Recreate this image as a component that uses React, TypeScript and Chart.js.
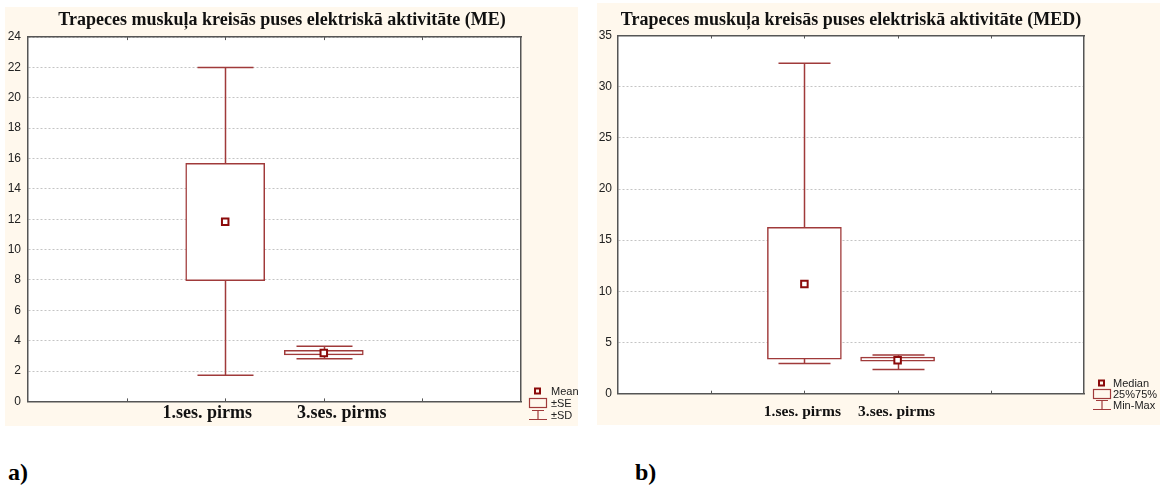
import React, { useEffect, useRef } from "react";
import { Chart, registerables } from "chart.js";

Chart.register(...registerables);

// ---------- data ----------
const categories = ["1.ses. pirms", "3.ses. pirms"];
const categoryPositions = [2, 3];

// a) mean, ±SE, ±SD
const meTitle = "Trapeces muskuļa kreisās puses elektriskā aktivitāte (ME)";
const meMean = [11.84, 3.19];
const meSeLow = [7.95, 3.06];
const meSeHigh = [15.68, 3.37];
const meSdLow = [1.72, 2.81];
const meSdHigh = [22.0, 3.63];
const meYMax = 24;
const meYStep = 2;
const meLegend = ["Mean", "±SE", "±SD"];

// b) median, 25%-75%, min-max
const medTitle = "Trapeces muskuļa kreisās puses elektriskā aktivitāte (MED)";
const medMedian = [10.73, 3.28];
const medQ1 = [3.38, 3.18];
const medQ3 = [16.25, 3.57];
const medMin = [2.96, 2.37];
const medMax = [32.3, 3.77];
const medYMax = 35;
const medYStep = 5;
const medLegend = ["Median", "25%75%", "Min-Max"];

// ---------- styles ----------
const CREAM = "#fff8ed";
const LINE = "#a03a3a";
const MARK = "#8b0a0a";
const FRAME = "#555555";
const SERIF = '"Liberation Serif", "Times New Roman", serif';
const NARROW = '"Liberation Sans Narrow", "Arial Narrow", "Liberation Sans", Arial, sans-serif';

type Spec = {
  left: number; top: number; width: number; height: number;
  areaLeft: number; areaTop: number; areaBottom: number; padRight: number;
  title: string; titleX: number; titleY: number; titleSize: number;
  labelSize: number; labelY: number; labelOffsets: number[];
  center: number[]; boxLow: number[]; boxHigh: number[]; whiskLow: number[]; whiskHigh: number[];
  yMax: number; yStep: number; tickPad: number;
  boxWidth: number; capWidth: number;
  legend: string[]; legendIconX: number; legendTextX: number; legendRows: number[]; legendBoxW: number;
};

function makePlugin(s: Spec) {
  return {
    id: "boxDecor",
    beforeDraw(chart: any) {
      const { ctx, chartArea: a } = chart;
      ctx.save();
      ctx.fillStyle = "#ffffff";
      ctx.fillRect(a.left, a.top, a.right - a.left, a.bottom - a.top);
      ctx.restore();
    },
    beforeDatasetsDraw(chart: any) {
      const { ctx } = chart;
      const xs = chart.scales.x;
      const ys = chart.scales.y;
      ctx.save();
      ctx.strokeStyle = LINE;
      ctx.lineWidth = 1.5;
      categoryPositions.forEach((p, i) => {
        const x = Math.round(xs.getPixelForValue(p)) + 0.5;
        const y1 = ys.getPixelForValue(s.whiskLow[i]);
        const y2 = ys.getPixelForValue(s.whiskHigh[i]);
        ctx.beginPath();
        ctx.moveTo(x, y1);
        ctx.lineTo(x, y2);
        ctx.moveTo(x - s.capWidth / 2, y1);
        ctx.lineTo(x + s.capWidth / 2, y1);
        ctx.moveTo(x - s.capWidth / 2, y2);
        ctx.lineTo(x + s.capWidth / 2, y2);
        ctx.stroke();
      });
      ctx.restore();
    },
    afterDraw(chart: any) {
      const { ctx, chartArea: a } = chart;
      const xs = chart.scales.x;
      ctx.save();
      // inner tick marks on top and bottom frame
      ctx.strokeStyle = FRAME;
      ctx.lineWidth = 1;
      xs.ticks.forEach((t: any) => {
        if (t.value <= 0 || t.value >= 5) return;
        const x = Math.round(xs.getPixelForValue(t.value)) + 0.5;
        ctx.beginPath();
        ctx.moveTo(x, a.bottom);
        ctx.lineTo(x, a.bottom - 3);
        ctx.moveTo(x, a.top);
        ctx.lineTo(x, a.top + 3);
        ctx.stroke();
      });
      // title
      ctx.fillStyle = "#111";
      ctx.font = `bold ${s.titleSize}px ${SERIF}`;
      ctx.textAlign = "center";
      ctx.textBaseline = "alphabetic";
      ctx.fillText(s.title, s.titleX, s.titleY);
      // category labels
      ctx.font = `bold ${s.labelSize}px ${SERIF}`;
      categories.forEach((c, i) => {
        const x = xs.getPixelForValue(categoryPositions[i]) + s.labelOffsets[i];
        ctx.fillText(c, x, s.labelY);
      });
      // legend
      const [r0, r1, r2] = s.legendRows;
      const ix = s.legendIconX;
      const bw = s.legendBoxW;
      ctx.fillStyle = "#fff";
      ctx.strokeStyle = MARK;
      ctx.lineWidth = 2;
      ctx.strokeRect(ix + bw / 2 - 2.5, r0 - 2.5, 5, 5);
      ctx.strokeStyle = LINE;
      ctx.lineWidth = 1.2;
      ctx.strokeRect(ix + 0.5, r1 - 4.5, bw, 9);
      ctx.beginPath();
      ctx.moveTo(ix + 3, r2 - 4.5);
      ctx.lineTo(ix + bw - 2, r2 - 4.5);
      ctx.moveTo(ix + bw / 2 + 0.5, r2 - 4.5);
      ctx.lineTo(ix + bw / 2 + 0.5, r2 + 4.5);
      ctx.moveTo(ix, r2 + 4.5);
      ctx.lineTo(ix + bw + 1, r2 + 4.5);
      ctx.stroke();
      ctx.fillStyle = "#222";
      ctx.font = `11px ${NARROW}`;
      ctx.textAlign = "left";
      ctx.textBaseline = "middle";
      s.legend.forEach((l, i) => ctx.fillText(l, s.legendTextX, s.legendRows[i] + 0.5));
      ctx.restore();
    },
  };
}

function buildConfig(s: Spec): any {
  const hiddenX = (pos: string, h: number) => ({
    type: "linear",
    position: pos,
    min: 0,
    max: 5,
    offset: false,
    ticks: { display: false, stepSize: 1 },
    grid: { display: false, drawTicks: false },
    border: { display: true, color: FRAME, width: 1.5 },
    afterFit: (sc: any) => { sc.height = h; },
  });
  return {
    type: "bar",
    data: {
      datasets: [
        {
          type: "scatter",
          label: s.legend[0],
          data: categoryPositions.map((x, i) => ({ x, y: s.center[i] })),
          pointStyle: "rect",
          pointRadius: 4.6,
          pointBorderWidth: 2,
          pointBorderColor: MARK,
          pointBackgroundColor: "#ffffff",
          xAxisID: "x",
          yAxisID: "y",
          order: 1,
        },
        {
          type: "bar",
          label: s.legend[1],
          data: categoryPositions.map((x, i) => ({ x, y: [s.boxLow[i], s.boxHigh[i]] })),
          backgroundColor: "#ffffff",
          borderColor: LINE,
          borderWidth: 1.5,
          borderSkipped: false,
          barThickness: s.boxWidth,
          xAxisID: "x",
          yAxisID: "y",
          order: 2,
        },
      ],
    },
    options: {
      animation: false,
      responsive: false,
      maintainAspectRatio: false,
      events: [],
      layout: { padding: { left: 0, right: s.padRight, top: 0, bottom: 0 } },
      plugins: {
        legend: { display: false },
        title: { display: false },
        tooltip: { enabled: false },
      },
      scales: {
        x: hiddenX("bottom", s.height - s.areaBottom),
        x2: hiddenX("top", s.areaTop),
        y: {
          type: "linear",
          position: "left",
          min: 0,
          max: s.yMax,
          ticks: {
            stepSize: s.yStep,
            color: "#222",
            padding: s.tickPad,
            font: { family: NARROW, size: 12 },
          },
          grid: { color: "#c4c4c4", lineWidth: 1, drawTicks: false },
          border: { display: true, color: FRAME, width: 1.5, dash: [2, 2] },
          afterFit: (sc: any) => { sc.width = s.areaLeft; },
        },
        y2: {
          type: "linear",
          position: "right",
          min: 0,
          max: 1,
          ticks: { display: false },
          grid: { display: false, drawTicks: false },
          border: { display: true, color: FRAME, width: 1.5 },
          afterFit: (sc: any) => { sc.width = 0; },
        },
      },
    },
    plugins: [makePlugin(s)],
  };
}

const specA: Spec = {
  left: 5, top: 7, width: 573, height: 419,
  areaLeft: 23, areaTop: 30.1, areaBottom: 394.4, padRight: 57,
  title: meTitle, titleX: 277, titleY: 18, titleSize: 18,
  labelSize: 18, labelY: 411, labelOffsets: [-18, 18],
  center: meMean, boxLow: meSeLow, boxHigh: meSeHigh, whiskLow: meSdLow, whiskHigh: meSdHigh,
  yMax: meYMax, yStep: meYStep, tickPad: 7,
  boxWidth: 79, capWidth: 56,
  legend: meLegend, legendIconX: 524, legendTextX: 546, legendRows: [384, 396, 408], legendBoxW: 17,
};

const specB: Spec = {
  left: 597, top: 3, width: 563, height: 422,
  areaLeft: 21, areaTop: 32.5, areaBottom: 390.7, padRight: 76,
  title: medTitle, titleX: 254, titleY: 22, titleSize: 18,
  labelSize: 15.5, labelY: 413, labelOffsets: [-2, -1],
  center: medMedian, boxLow: medQ1, boxHigh: medQ3, whiskLow: medMin, whiskHigh: medMax,
  yMax: medYMax, yStep: medYStep, tickPad: 6,
  boxWidth: 74, capWidth: 52,
  legend: medLegend, legendIconX: 496, legendTextX: 516, legendRows: [380, 391, 402], legendBoxW: 17,
};

function Panel({ spec }: { spec: Spec }) {
  const ref = useRef<HTMLCanvasElement>(null);
  useEffect(() => {
    const chart = new Chart(ref.current as HTMLCanvasElement, buildConfig(spec));
    return () => chart.destroy();
  }, [spec]);
  return (
    <canvas
      ref={ref}
      width={spec.width}
      height={spec.height}
      style={{
        position: "absolute",
        left: spec.left,
        top: spec.top,
        width: spec.width,
        height: spec.height,
        background: CREAM,
      }}
    />
  );
}

const tag = (left: number): React.CSSProperties => ({
  position: "absolute",
  left,
  top: 460,
  fontFamily: SERIF,
  fontWeight: "bold",
  fontSize: 24,
  lineHeight: "24px",
  color: "#000",
});

export default function App() {
  return (
    <div style={{ position: "absolute", left: 0, top: 0, width: 1162, height: 489, background: "#fff" }}>
      <Panel spec={specA} />
      <Panel spec={specB} />
      <div style={tag(8)}>a)</div>
      <div style={tag(635)}>b)</div>
    </div>
  );
}
